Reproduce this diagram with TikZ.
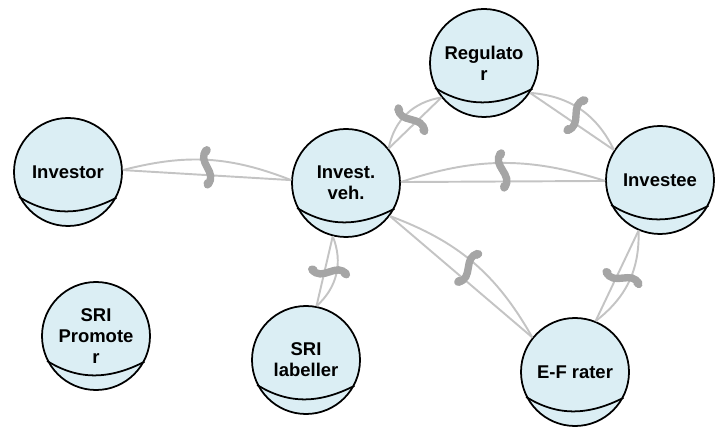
\documentclass[tikz,border=0pt]{standalone}
\usepackage{fontspec}
\setmainfont{Liberation Sans}
\usetikzlibrary{decorations.markings}

\definecolor{ballblue}{RGB}{219,238,244}
\definecolor{linkgray}{RGB}{196,196,196}
\definecolor{wigglegray}{RGB}{165,165,165}

\tikzset{
  actor/.style={circle, draw, line width=1pt, fill=ballblue, minimum size=2.16cm,
    inner sep=0pt, align=center, font=\bfseries\fontsize{10.5}{12}\selectfont},
  rim/.style={line width=1pt},
  link/.style={draw=linkgray, line width=1.1pt},
  wiggle/.style={draw=wigglegray, fill=wigglegray, line width=4.2pt, line cap=round},
  tie/.style={link, bend left=#1, postaction={decorate, decoration={markings,
    mark=at position 0.5 with {
      \draw[wiggle] (-0.03,0.2) .. controls (-0.26,-0.04) and (0.24,-0.24) .. (0.02,-0.5);
      \fill[wigglegray] (-0.05,0.17) circle (0.09) (0.03,-0.47) circle (0.09);}}}}
}

\begin{document}
\begin{tikzpicture}
    \useasboundingbox (0,0) rectangle (14.3,8.64);
    \node[actor] (investor) at (1.36,5.20) {Investor};
    \node[actor] (vehicle) at (6.92,4.98) {Invest.\\veh.};
    \node[actor] (regulator) at (9.68,7.38) {Regulato\\r};
    \node[actor] (investee) at (13.2,5.04) {Investee};
    \node[actor] (labeller) at (6.12,1.44) {SRI\\labeller};
    \node[actor] (rater) at (11.50,1.20) {E-F rater};
    \node[actor] (promoter) at (1.92,1.92) {SRI\\Promote\\r};

    % lower rim of each ball
    \foreach \n in {investor,vehicle,regulator,investee,labeller,rater,promoter}
      \draw[rim] (\n.207) to[out=-32,in=207] (\n.-28);

    % straight strand plus bent strand with a twist
    \foreach \a/\b/\s in {investor.2/vehicle.177/18, vehicle.39/regulator.219/35,
        regulator.-33/investee.147/30, vehicle.1/investee.181/18,
        vehicle.-37/rater.141/20, investee.-113/rater.68/27, vehicle.-104/labeller.79/35}
    {
      \draw[link] (\a) -- (\b);
      \draw[tie=\s] (\a) to (\b);
    }
\end{tikzpicture}
\end{document}
